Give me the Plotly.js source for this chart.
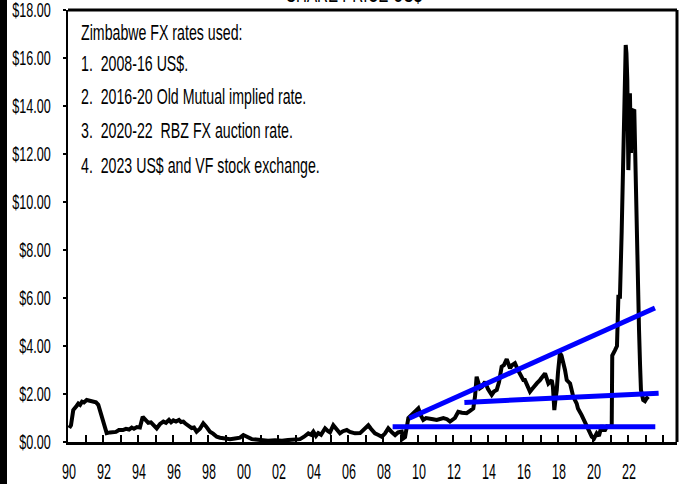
<!DOCTYPE html>
<html>
<head>
<meta charset="utf-8">
<script src="https://cdn.plot.ly/plotly-3.0.1.min.js"></script>
<style>
html,body{margin:0;padding:0;background:#fff;}
#wrap{position:relative;width:689px;height:484px;}
#bar{position:absolute;left:0;top:0;width:7px;height:484px;background:#000;z-index:5;}
#chart{position:absolute;left:0;top:0;width:689px;height:484px;}
</style>
</head>
<body>
<div id="wrap"><div id="bar"></div><div id="chart"></div></div>
<script>
// Share price (US$) series
const years = [1990.07,1990.17,1990.30,1990.40,1990.49,1990.59,1990.69,1990.80,1990.91,1991.07,1991.20,1991.31,1991.45,1991.60,1991.73,1991.83,1991.93,1992.00,1992.11,1992.21,1992.40,1992.57,1992.74,1992.91,1993.14,1993.31,1993.49,1993.64,1993.77,1993.94,1994.11,1994.27,1994.40,1994.59,1994.74,1994.91,1995.07,1995.26,1995.45,1995.60,1995.77,1995.89,1996.02,1996.17,1996.34,1996.46,1996.59,1996.69,1996.86,1997.07,1997.20,1997.35,1997.54,1997.73,1997.89,1998.11,1998.29,1998.50,1998.69,1998.97,1999.26,1999.54,1999.83,2000.02,2000.23,2000.50,2000.74,2001.07,2001.43,2001.83,2002.23,2002.57,2002.97,2003.26,2003.49,2003.73,2003.89,2004.02,2004.17,2004.30,2004.46,2004.69,2004.86,2004.97,2005.16,2005.31,2005.54,2005.71,2005.93,2006.11,2006.40,2006.69,2006.91,2007.16,2007.31,2007.54,2007.71,2007.93,2008.11,2008.30,2008.51,2008.69,2008.86,2009.07,2009.16,2009.26,2009.45,2009.60,2009.77,2010.02,2010.17,2010.30,2010.46,2010.69,2010.86,2011.07,2011.26,2011.45,2011.66,2011.83,2012.11,2012.30,2012.51,2012.78,2012.97,2013.16,2013.26,2013.35,2013.54,2013.66,2013.83,2014.00,2014.21,2014.34,2014.50,2014.63,2014.78,2014.91,2015.07,2015.26,2015.37,2015.54,2015.71,2015.83,2016.02,2016.11,2016.23,2016.40,2016.51,2016.69,2016.80,2016.97,2017.09,2017.26,2017.45,2017.64,2017.71,2017.79,2017.86,2017.93,2018.00,2018.11,2018.20,2018.30,2018.40,2018.50,2018.69,2018.77,2018.87,2019.07,2019.14,2019.35,2019.49,2019.64,2019.77,2019.93,2020.06,2020.21,2020.34,2020.50,2020.57,2020.69,2020.80,2020.97,2021.07,2021.10,2021.26,2021.37,2021.45,2021.54,2021.64,2021.71,2021.79,2021.87,2021.91,2021.96,2022.02,2022.06,2022.11,2022.17,2022.25,2022.36,2022.43,2022.50,2022.57,2022.63,2022.69,2022.74,2022.87,2022.97,2023.07,2023.16];
const price = [0.58,0.70,1.33,1.40,1.50,1.60,1.55,1.68,1.65,1.75,1.72,1.70,1.70,1.65,1.55,1.30,1.10,1.00,0.64,0.37,0.40,0.43,0.42,0.50,0.50,0.55,0.52,0.60,0.55,0.62,0.60,1.05,0.95,0.80,0.82,0.70,0.57,0.75,0.85,0.80,0.92,0.82,0.90,0.85,0.92,0.83,0.85,0.78,0.70,0.58,0.60,0.43,0.55,0.78,0.65,0.43,0.35,0.22,0.18,0.15,0.12,0.15,0.18,0.29,0.20,0.12,0.10,0.08,0.05,0.07,0.05,0.08,0.10,0.12,0.22,0.36,0.30,0.43,0.25,0.37,0.30,0.57,0.45,0.40,0.70,0.55,0.36,0.45,0.50,0.42,0.36,0.37,0.50,0.70,0.55,0.36,0.30,0.22,0.35,0.57,0.40,0.29,0.40,0.43,0.15,0.20,1.00,1.10,1.25,1.40,1.10,0.92,1.00,0.99,0.95,0.92,0.98,1.00,0.95,0.85,1.00,1.26,1.22,1.20,1.30,1.40,1.90,2.72,2.24,2.30,2.51,2.20,1.96,2.10,2.17,2.50,3.14,3.20,3.45,3.07,3.20,3.28,3.00,2.80,2.58,2.58,2.40,2.10,2.20,2.38,2.45,2.58,2.70,2.86,2.44,2.58,2.30,1.33,1.80,2.17,2.90,3.70,3.60,3.35,3.00,2.58,2.44,2.20,1.89,1.60,1.40,1.12,0.90,0.64,0.40,0.22,0.15,0.36,0.25,0.70,0.50,0.50,0.65,0.64,0.70,3.60,3.83,4.00,6.05,6.05,8.80,11.00,13.00,16.54,16.20,15.08,11.33,12.50,14.53,12.04,13.83,13.80,11.00,8.80,6.50,4.67,3.20,2.17,1.75,1.70,1.82,1.89];

// Trend lines (start, end)
const trendUpX = [2009.50, 2023.54];
const trendUpY = [0.99, 5.58];
const trendMidX = [2012.65, 2023.75];
const trendMidY = [1.65, 2.03];
const trendLowX = [2008.55, 2023.56];
const trendLowY = [0.64, 0.64];

// Axis ticks
const xTickVals = [1990,1991,1992,1993,1994,1995,1996,1997,1998,1999,2000,2001,2002,2003,2004,2005,2006,2007,2008,2009,2010,2011,2012,2013,2014,2015,2016,2017,2018,2019,2020,2021,2022,2023,2024];
const xTickText = ['90','','92','','94','','96','','98','','00','','02','','04','','06','','08','','10','','12','','14','','16','','18','','20','','22','',''];
const yTickVals = [0,2,4,6,8,10,12,14,16,18];
const yTickText = ['$0.00','$2.00','$4.00','$6.00','$8.00','$10.00','$12.00','$14.00','$16.00','$18.00'];

const noteLines = ['Zimbabwe FX rates used:','1.  2008-16 US$.','2.  2016-20 Old Mutual implied rate.','3.  2020-22  RBZ FX auction rate.','4.  2023 US$ and VF stock exchange.'];
const noteY = [17.08, 15.79, 14.38, 13.0, 11.54];

const FONT = '"Liberation Sans", Arial, sans-serif';
// the reference uses a tall, very condensed face: squeeze text horizontally
const SQUEEZE_NOTE = 0.63, SQUEEZE_Y = 0.6, SQUEEZE_X = 0.57;

const blue = '#0000ff';
const traces = [
  {x: years, y: price, type: 'scatter', mode: 'lines', line: {color: '#000', width: 4}, hoverinfo: 'skip'},
  {x: trendUpX, y: trendUpY, type: 'scatter', mode: 'lines', line: {color: blue, width: 5}},
  {x: trendMidX, y: trendMidY, type: 'scatter', mode: 'lines', line: {color: blue, width: 5}},
  {x: trendLowX, y: trendLowY, type: 'scatter', mode: 'lines', line: {color: blue, width: 5}}
];

const annotations = noteLines.map((t, i) => ({
  text: t, x: 0.018, xref: 'paper', y: noteY[i], yref: 'y',
  xanchor: 'left', yanchor: 'middle', showarrow: false,
  font: {family: FONT, size: 22.5, color: '#000'}
}));
annotations.push({
  text: 'SHARE PRICE US$', x: 0.47, xref: 'paper', y: 1, yref: 'paper',
  xanchor: 'center', yanchor: 'bottom', yshift: 1, showarrow: false,
  font: {family: FONT, size: 24, color: '#000'}
});

const layout = {
  width: 689, height: 484,
  margin: {l: 68, r: 12, t: 10, b: 42},
  paper_bgcolor: '#fff', plot_bgcolor: '#fff',
  showlegend: false,
  font: {family: FONT, size: 21, color: '#000'},
  xaxis: {
    range: [1990, 2024.8], tickmode: 'array', tickvals: xTickVals, ticktext: xTickText,
    ticks: 'inside', ticklen: 7, tickwidth: 2, tickcolor: '#000',
    showline: true, linecolor: '#000', linewidth: 2.5,
    showgrid: false, zeroline: false, ticklabelstandoff: 8, ticklabelshift: 1,
    ticklabeloverflow: 'allow',
    tickfont: {family: FONT, size: 22, color: '#000'}
  },
  yaxis: {
    range: [0, 18], tickmode: 'array', tickvals: yTickVals, ticktext: yTickText,
    ticks: 'outside', ticklen: 3, tickwidth: 2, tickcolor: '#000',
    showline: true, linecolor: '#000', linewidth: 2,
    showgrid: false, zeroline: false, ticklabelstandoff: 8,
    ticklabeloverflow: 'allow',
    tickfont: {family: FONT, size: 21, color: '#000'}
  },
  shapes: [
    {type: 'line', xref: 'paper', yref: 'paper', x0: 0, x1: 1, y0: 1, y1: 1, line: {color: '#000', width: 3}},
    {type: 'line', xref: 'paper', yref: 'paper', x0: 1, x1: 1, y0: 0, y1: 1, line: {color: '#000', width: 3}}
  ],
  annotations: annotations
};

Plotly.newPlot('chart', traces, layout, {displayModeBar: false, staticPlot: true}).then(gd => {
  gd.querySelectorAll('text').forEach(t => {
    let ox = parseFloat(t.getAttribute('x')) || 0;
    let s = SQUEEZE_NOTE;
    if (t.closest('.ytick')) s = SQUEEZE_Y;
    else if (t.closest('.xtick')) s = SQUEEZE_X;
    const ann = t.closest('.annotation');
    if (ann) {
      const idx = parseInt(ann.getAttribute('data-index'), 10);
      if (idx < noteLines.length) ox = t.getBBox().x; // keep notes left-aligned
    }
    const old = t.getAttribute('transform') || '';
    t.setAttribute('transform', old + ' translate(' + ox + ',0) scale(' + s + ',1) translate(' + (-ox) + ',0)');
  });
});
</script>
</body>
</html>
